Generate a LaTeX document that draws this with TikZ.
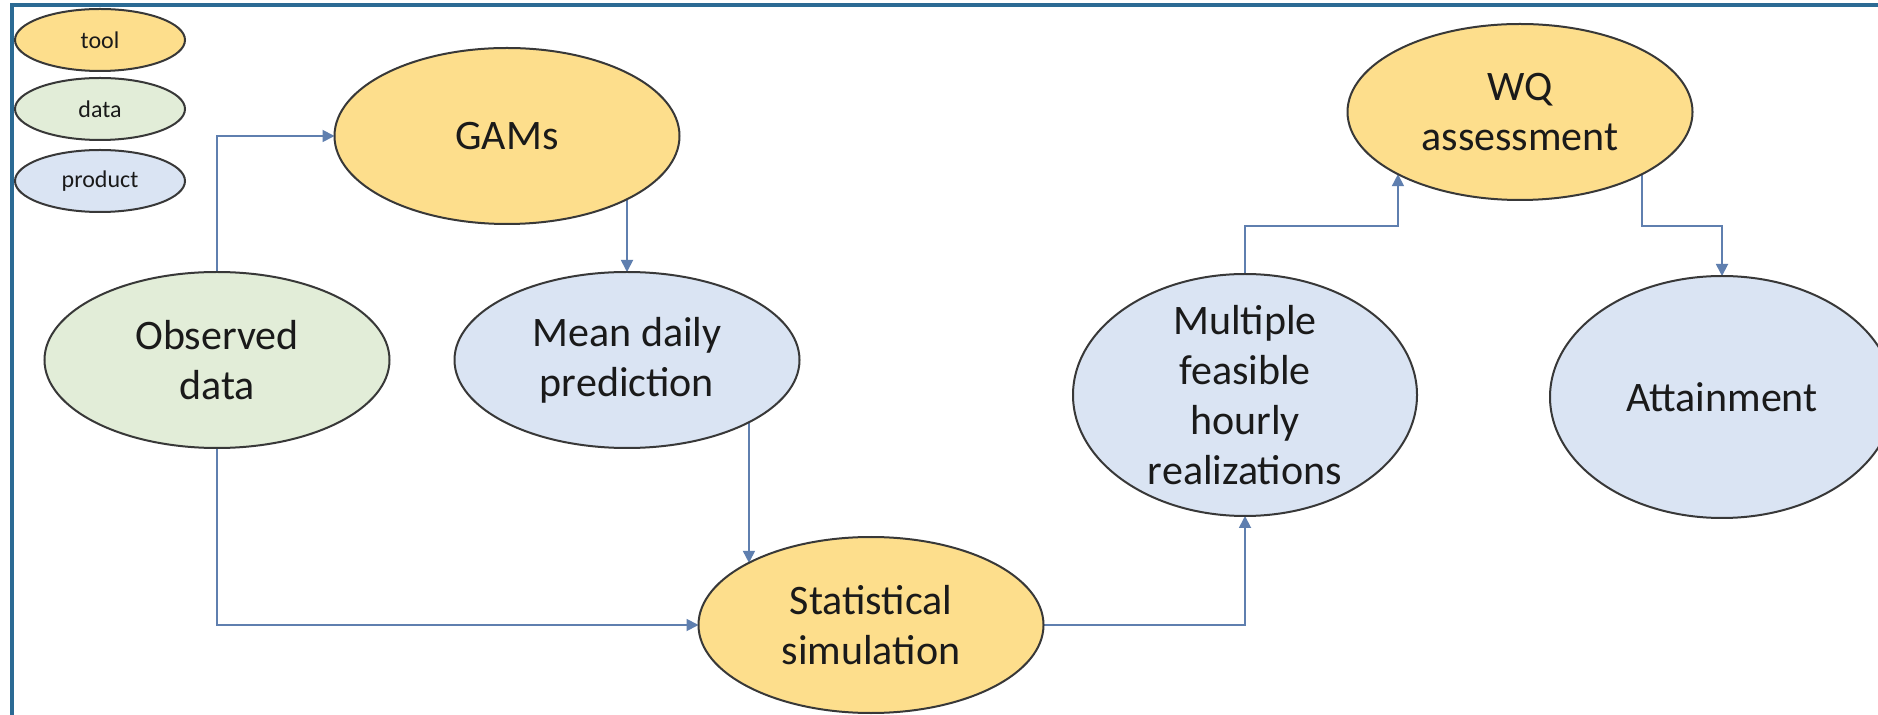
\documentclass[tikz,border=0pt]{standalone}
\usepackage{fontspec}
\setmainfont{Carlito}
\usetikzlibrary{shapes.geometric,arrows.meta,backgrounds}
\definecolor{toolc}{HTML}{FDDE8C}
\definecolor{datac}{HTML}{E2EDD8}
\definecolor{prodc}{HTML}{DAE4F3}
\definecolor{outl}{HTML}{383838}
\definecolor{linec}{HTML}{5F7FAF}
\definecolor{framec}{HTML}{2B6A94}
\definecolor{txt}{HTML}{1A1A1A}
\begin{document}
\begin{tikzpicture}[x=0.5pt,y=-0.5pt,
  ell/.style={ellipse,draw=outl,line width=1pt,inner sep=0pt,outer sep=0pt,text=txt,align=center,
    font=\fontsize{21}{25}\selectfont},
  toolnode/.style={ell,fill=toolc},
  datanode/.style={ell,fill=datac},
  prodnode/.style={ell,fill=prodc},
  smallell/.style={minimum width=172.5pt,minimum height=88pt},
  bigell/.style={minimum width=172pt,minimum height=121pt},
  legell/.style={minimum width=85pt,minimum height=31pt,font=\fontsize{12}{14}\selectfont},
  conn/.style={draw=linec,line width=0.9pt,-{Triangle[length=6pt,width=6pt,fill=linec]}},
  frameline/.style={draw=framec,line width=1.6pt}]
\useasboundingbox (0,0) rectangle (1878,715);
% legend
\node[toolnode,legell] (ltool) at (100,40) {tool};
\node[datanode,legell] (ldata) at (100,109) {data};
\node[prodnode,legell] (lprod) at (100,181) {product};
% main nodes
\node[datanode,smallell] (obs) at (217,360) {Observed\\data};
\node[toolnode,smallell] (gams) at (507,136) {GAMs};
\node[prodnode,smallell] (mean) at (627,360) {Mean daily\\prediction};
\node[toolnode,smallell] (stat) at (871,625) {Statistical\\simulation};
\node[prodnode,bigell,inner ysep=-12pt] (mult) at (1245,395) {Multiple\\feasible\\hourly\\realizations};
\node[toolnode,smallell] (wq) at (1520,112) {WQ\\assessment};
\node[prodnode,bigell] (att) at (1722,397) {Attainment};
\coordinate (jy) at (0,226);
\begin{scope}[on background layer]
  \fill[white] (0,0) rectangle (1878,715);
  \draw[frameline] (12,715) -- (12,5) -- (1878,5);
  \draw[conn] (obs.north) |- (gams.west);
  \draw[conn] (gams.center -| mean.north) -- (mean.north);
  \draw[conn] (mean.center -| stat.153) -- (stat.153);
  \draw[conn] (obs.south) |- (stat.west);
  \draw[conn] (stat.east) -| (mult.south);
  \draw[conn] (mult.north) -- (mult.north |- jy) -| (wq.207);
  \draw[conn] (wq.-27) -- (wq.-27 |- jy) -| (att.north);
\end{scope}
\end{tikzpicture}
\end{document}
